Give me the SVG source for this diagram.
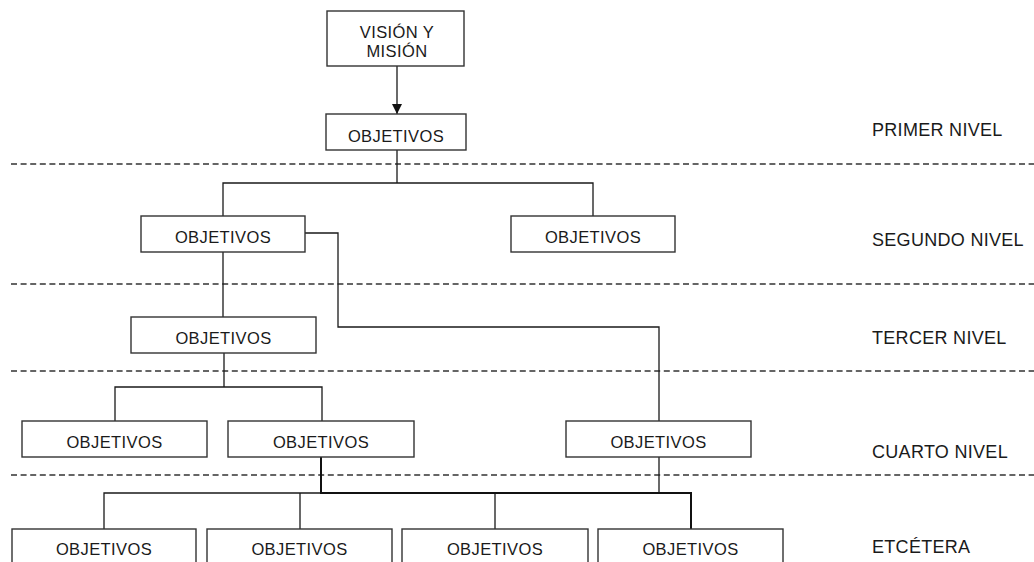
<svg xmlns="http://www.w3.org/2000/svg" width="1034" height="562" viewBox="0 0 1034 562">
  <defs>
    <marker id="arrow" viewBox="0 0 10 10" refX="10" refY="5" markerWidth="10" markerHeight="10" markerUnits="userSpaceOnUse" orient="auto">
      <path d="M0,0 L10,5 L0,10 Z" fill="#111"/>
    </marker>
    <style>
      .box { fill: #fff; stroke: #333; stroke-width: 1.4; }
      .t { font-family: "Liberation Sans", Arial, sans-serif; font-size: 16.5px; letter-spacing: 0.4px; fill: #1a1a1a; text-anchor: middle; }
      .lbl { font-family: "Liberation Sans", Arial, sans-serif; font-size: 18px; letter-spacing: 0.3px; fill: #1a1a1a; }
      .wire { fill: none; stroke: #1a1a1a; stroke-width: 1.3; }
      .thick { fill: none; stroke: #111; stroke-width: 2; }
      .sep { stroke: #333; stroke-width: 1.4; stroke-dasharray: 6 3.6; }
    </style>
  </defs>
  <rect width="1034" height="562" fill="#fff"/>

  <!-- level separators -->
  <g id="separators">
    <line class="sep" x1="11" y1="164" x2="1034" y2="164"/>
    <line class="sep" x1="11" y1="284" x2="1034" y2="284"/>
    <line class="sep" x1="11" y1="371" x2="1034" y2="371"/>
    <line class="sep" x1="11" y1="475" x2="1034" y2="475"/>
  </g>

  <!-- connectors -->
  <g id="connectors">
    <line class="wire" x1="397" y1="66" x2="397" y2="114" marker-end="url(#arrow)"/>
    <path class="wire" d="M397,150 V183 M223,216 V183 H593 V216"/>
    <path class="wire" d="M223,252 V317"/>
    <path class="wire" d="M305,233 H338 V327 H659 V421"/>
    <path class="wire" d="M224,353 V387 M115,421 V387 H322 V421"/>
    <path class="wire" d="M659,457 V493"/>
    <path class="wire" d="M104,529 V493 H321 M300,493 V529 M495,493 V529"/>
    <path class="thick" d="M321,457 V493 H691 V529"/>
  </g>

  <!-- top -->
  <g id="vision">
    <rect class="box" x="327" y="11" width="137" height="55"/>
    <text class="t" x="397" y="38">VISIÓN Y</text>
    <text class="t" x="397" y="57">MISIÓN</text>
  </g>
  <g id="obj-1">
    <rect class="box" x="326" y="114" width="140" height="36"/>
    <text class="t" x="396" y="142">OBJETIVOS</text>
  </g>

  <!-- second level -->
  <g id="obj-2a">
    <rect class="box" x="141" y="216" width="164" height="36"/>
    <text class="t" x="223" y="243">OBJETIVOS</text>
  </g>
  <g id="obj-2b">
    <rect class="box" x="511" y="216" width="164" height="36"/>
    <text class="t" x="593" y="243">OBJETIVOS</text>
  </g>

  <!-- third level -->
  <g id="obj-3">
    <rect class="box" x="131" y="317" width="185" height="36"/>
    <text class="t" x="223.5" y="344">OBJETIVOS</text>
  </g>

  <!-- fourth level -->
  <g id="obj-4a">
    <rect class="box" x="22" y="421" width="185" height="36"/>
    <text class="t" x="114.5" y="448">OBJETIVOS</text>
  </g>
  <g id="obj-4b">
    <rect class="box" x="228" y="421" width="186" height="36"/>
    <text class="t" x="321" y="448">OBJETIVOS</text>
  </g>
  <g id="obj-4c">
    <rect class="box" x="566" y="421" width="185" height="36"/>
    <text class="t" x="658.5" y="448">OBJETIVOS</text>
  </g>

  <!-- further levels -->
  <g id="obj-5a">
    <rect class="box" x="12" y="529" width="184" height="40"/>
    <text class="t" x="104" y="555">OBJETIVOS</text>
  </g>
  <g id="obj-5b">
    <rect class="box" x="207" y="529" width="185" height="40"/>
    <text class="t" x="299.5" y="555">OBJETIVOS</text>
  </g>
  <g id="obj-5c">
    <rect class="box" x="402" y="529" width="186" height="40"/>
    <text class="t" x="495" y="555">OBJETIVOS</text>
  </g>
  <g id="obj-5d">
    <rect class="box" x="598" y="529" width="185" height="40"/>
    <text class="t" x="690.5" y="555">OBJETIVOS</text>
  </g>

  <!-- level labels -->
  <g id="labels">
    <text class="lbl" x="872" y="136">PRIMER NIVEL</text>
    <text class="lbl" x="872" y="246">SEGUNDO NIVEL</text>
    <text class="lbl" x="872" y="344">TERCER NIVEL</text>
    <text class="lbl" x="872" y="458">CUARTO NIVEL</text>
    <text class="lbl" x="872" y="553">ETCÉTERA</text>
  </g>
</svg>
